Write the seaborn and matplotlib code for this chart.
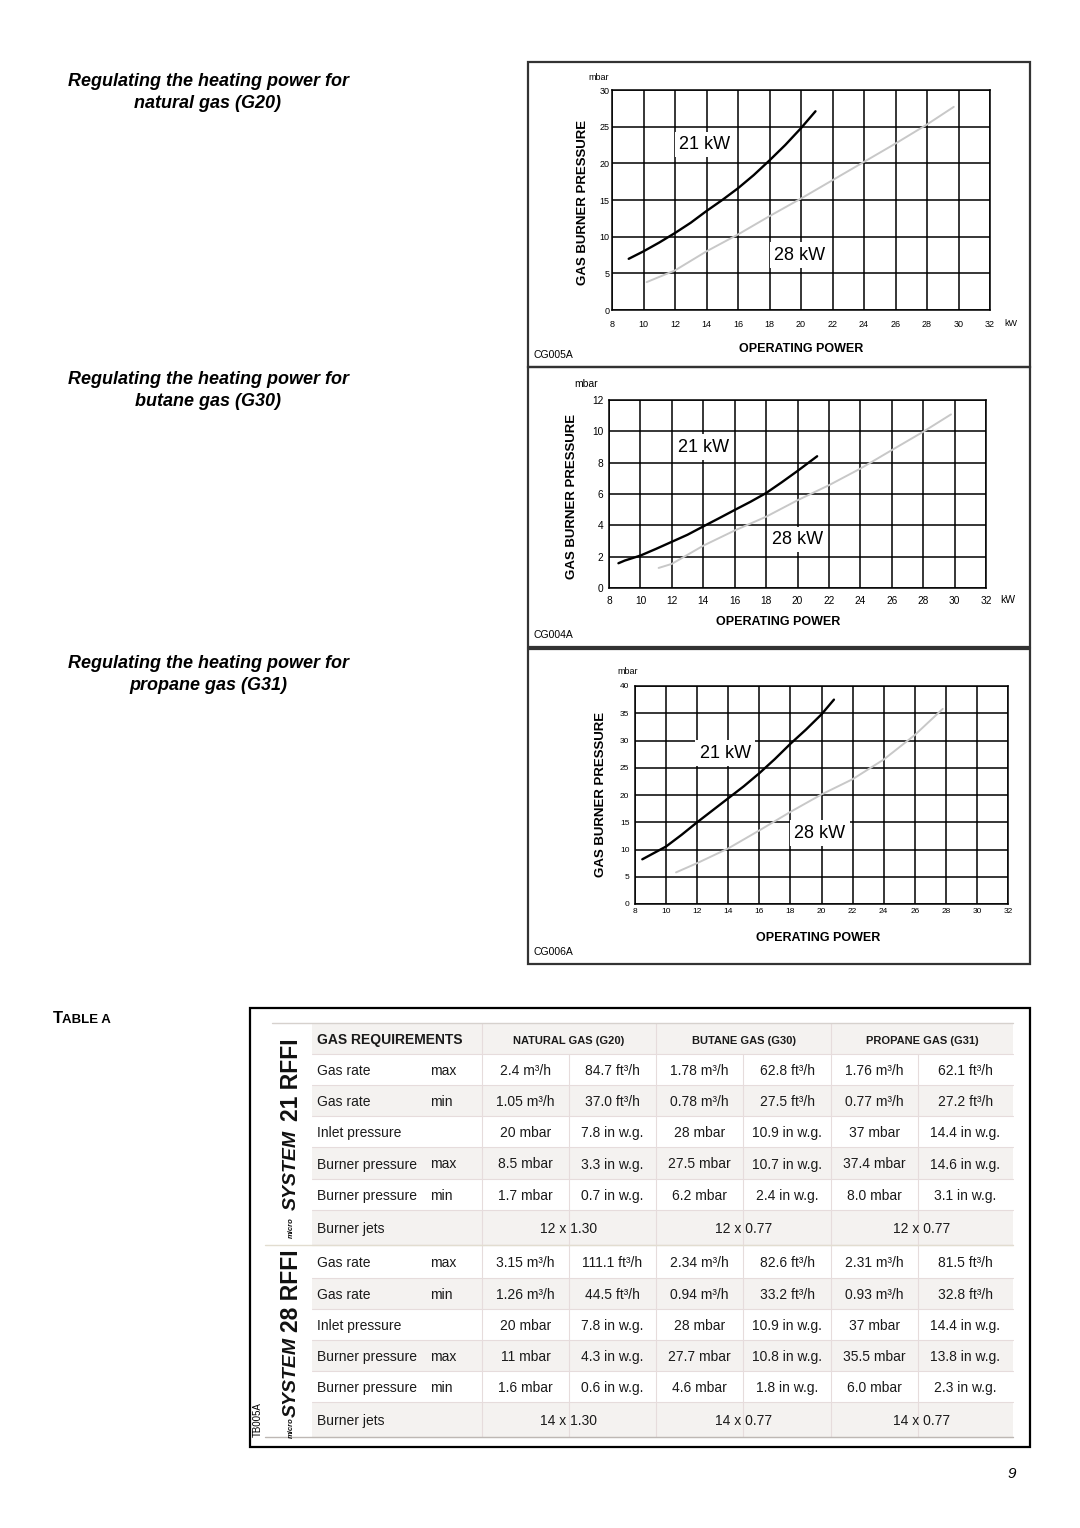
import matplotlib
matplotlib.use("Agg")
import matplotlib.pyplot as plt
import seaborn as sns
from matplotlib.patches import Rectangle

# curve data (kW -> mbar)
g20_21_kw = [9.06, 10, 11, 12, 13, 14, 15, 16, 17, 18, 19, 20, 20.92]
g20_21_mbar = [6.98, 8.0, 9.2, 10.5, 11.9, 13.5, 15.0, 16.6, 18.4, 20.4, 22.5, 24.8, 27.1]
g20_28_kw = [10.2, 12, 14, 16, 18, 20, 22, 24, 26, 28, 29.7]
g20_28_mbar = [3.8, 5.4, 8.0, 10.3, 12.8, 15.2, 17.7, 20.2, 22.7, 25.3, 27.7]

g30_21_kw = [8.6, 9, 10, 11, 12, 13, 14, 15, 16, 17, 18, 19, 20, 21.25]
g30_21_mbar = [1.58, 1.75, 2.07, 2.5, 2.95, 3.4, 3.93, 4.45, 4.98, 5.5, 6.06, 6.75, 7.47, 8.41]
g30_28_kw = [11.16, 12, 14, 16, 18, 20, 22, 24, 26, 28, 29.77]
g30_28_mbar = [1.28, 1.54, 2.7, 3.67, 4.55, 5.6, 6.56, 7.62, 8.8, 9.97, 11.08]

g31_21_kw = [8.47, 10, 11, 12, 13, 14, 15, 16, 17, 18, 19, 20, 20.8]
g31_21_mbar = [8.2, 10.55, 12.7, 15.0, 17.2, 19.4, 21.6, 24.0, 26.6, 29.4, 32.0, 34.8, 37.5]
g31_28_kw = [10.64, 12, 14, 16, 18, 20, 22, 24, 26, 27.8]
g31_28_mbar = [5.8, 7.5, 10.2, 13.5, 16.9, 20.1, 22.9, 26.5, 31.0, 35.8]

# table A
row_labels = ["Gas rate", "Gas rate", "Inlet pressure", "Burner pressure", "Burner pressure", "Burner jets"]
row_qualifiers = ["max", "min", "", "max", "min", ""]
gas_headers = ["NATURAL GAS (G20)", "BUTANE GAS (G30)", "PROPANE GAS (G31)"]
values_21 = [
    ["2.4 m³/h", "84.7 ft³/h", "1.78 m³/h", "62.8 ft³/h", "1.76 m³/h", "62.1 ft³/h"],
    ["1.05 m³/h", "37.0 ft³/h", "0.78 m³/h", "27.5 ft³/h", "0.77 m³/h", "27.2 ft³/h"],
    ["20 mbar", "7.8 in w.g.", "28 mbar", "10.9 in w.g.", "37 mbar", "14.4 in w.g."],
    ["8.5 mbar", "3.3 in w.g.", "27.5 mbar", "10.7 in w.g.", "37.4 mbar", "14.6 in w.g."],
    ["1.7 mbar", "0.7 in w.g.", "6.2 mbar", "2.4 in w.g.", "8.0 mbar", "3.1 in w.g."],
]
jets_21 = ["12 x 1.30", "12 x 0.77", "12 x 0.77"]
values_28 = [
    ["3.15 m³/h", "111.1 ft³/h", "2.34 m³/h", "82.6 ft³/h", "2.31 m³/h", "81.5 ft³/h"],
    ["1.26 m³/h", "44.5 ft³/h", "0.94 m³/h", "33.2 ft³/h", "0.93 m³/h", "32.8 ft³/h"],
    ["20 mbar", "7.8 in w.g.", "28 mbar", "10.9 in w.g.", "37 mbar", "14.4 in w.g."],
    ["11 mbar", "4.3 in w.g.", "27.7 mbar", "10.8 in w.g.", "35.5 mbar", "13.8 in w.g."],
    ["1.6 mbar", "0.6 in w.g.", "4.6 mbar", "1.8 in w.g.", "6.0 mbar", "2.3 in w.g."],
]
jets_28 = ["14 x 1.30", "14 x 0.77", "14 x 0.77"]

W, H = 1080, 1528
sns.set_style("white")
plt.rcParams['font.family'] = ['Liberation Sans', 'DejaVu Sans']
plt.rcParams['text.color'] = 'black'
plt.rcParams['xtick.color'] = 'black'
plt.rcParams['ytick.color'] = 'black'

fig = plt.figure(figsize=(W / 100, H / 100), dpi=100)
page = fig.add_axes([0, 0, 1, 1])
page.set_xlim(0, W)
page.set_ylim(H, 0)
page.axis('off')


def add_chart(l, t, r, b):
    return fig.add_axes([l / W, 1 - b / H, (r - l) / W, (b - t) / H])


def draw_chart(ax, ymax, ystep, kw21, p21, kw28, p28, pos21, pos28, fs, xpad, ypad):
    ax.set_xlim(8, 32)
    ax.set_ylim(0, ymax)
    ax.set_xticks(range(8, 33, 2))
    ax.set_yticks(range(0, ymax + 1, ystep))
    ax.grid(True, color='black', lw=1.1)
    ax.set_axisbelow(True)
    for s in ax.spines.values():
        s.set_visible(True)
        s.set_color('black')
        s.set_linewidth(1.1)
    ax.tick_params(length=0, labelsize=fs)
    ax.tick_params(axis='x', pad=xpad)
    ax.tick_params(axis='y', pad=ypad)
    sns.lineplot(x=kw21, y=p21, ax=ax, color='black', lw=1.7, zorder=4)
    sns.lineplot(x=kw28, y=p28, ax=ax, color='#c8c8c8', lw=1.4, zorder=4)
    box = dict(facecolor='white', edgecolor='none', pad=3)
    ax.text(pos21[0], pos21[1], '21 kW', fontsize=13, ha='center', va='center', bbox=box, zorder=3)
    ax.text(pos28[0], pos28[1], '28 kW', fontsize=13, ha='center', va='center', bbox=box, zorder=3)
    ax.set_xlabel('')
    ax.set_ylabel('')


# chart frames
for (l, t, r, b) in [(528, 62, 1030, 367), (528, 367, 1030, 647), (528, 649, 1030, 964)]:
    page.add_patch(Rectangle((l, t), r - l, b - t, fill=False, ec='#333333', lw=1.6))

ax1 = add_chart(612, 90, 990, 310)
draw_chart(ax1, 30, 5, g20_21_kw, g20_21_mbar, g20_28_kw, g20_28_mbar, (13.9, 22.6), (19.9, 7.5), 6.5, 7, 2)
ax2 = add_chart(609, 400, 986, 588)
draw_chart(ax2, 12, 2, g30_21_kw, g30_21_mbar, g30_28_kw, g30_28_mbar, (14.0, 9.0), (20.0, 3.1), 7.3, 6, 4)
ax3 = add_chart(635, 686, 1008, 904)
draw_chart(ax3, 40, 5, g31_21_kw, g31_21_mbar, g31_28_kw, g31_28_mbar, (13.8, 27.7), (19.9, 13.0), 6, 3, 4)

# chart annotations
for (mx, my, mfs, yx, yy, kx, ky, ox, oy, cy, code) in [
        (599, 78, 6.5, 583, 202, 1011, 324, 801, 349, 355, 'CG005A'),
        (586, 384, 7.5, 572, 496, 1008, 600, 778, 622, 635, 'CG004A'),
        (628, 671, 6.5, 601, 794, None, None, 818, 938, 952, 'CG006A')]:
    page.text(mx, my, 'mbar', fontsize=mfs, ha='center', va='center')
    page.text(yx, yy, 'GAS BURNER PRESSURE', fontsize=9.5, fontweight='bold', rotation=90,
              ha='center', va='center')
    if kx is not None:
        page.text(kx, ky, 'kW', fontsize=mfs, ha='center', va='center')
    page.text(ox, oy, 'OPERATING POWER', fontsize=9, fontweight='bold', ha='center', va='center')
    page.text(533, cy, code, fontsize=7.5, ha='left', va='center')

# left titles
for (y1, line2) in [(81, 'natural gas (G20)'), (380, 'butane gas (G30)'), (663, 'propane gas (G31)')]:
    page.text(208, y1, 'Regulating the heating power for', fontsize=13, fontweight='bold',
              style='italic', ha='center', va='center')
    page.text(208, y1 + 22, line2, fontsize=13, fontweight='bold', style='italic',
              ha='center', va='center')

page.text(53, 1023, 'T', fontsize=12, fontweight='bold', ha='left', va='baseline')
page.text(62, 1023, 'ABLE A', fontsize=9.5, fontweight='bold', ha='left', va='baseline')
page.text(1012, 1474, '9', fontsize=11, style='italic', ha='center', va='center')

# table A
page.add_patch(Rectangle((250, 1008), 780, 439, fill=False, ec='black', lw=1.6))
col_edges = [312, 482, 569, 656, 743, 831, 918, 1013]
block1_edges = [1054, 1085, 1116, 1147, 1179, 1210, 1245]
block2_edges = [1245, 1278, 1309, 1340, 1371, 1402, 1437]
line_c = '#e6dcdc'
alt_bg = '#f4f2f0'
txt_c = '#1a1a1a'

page.add_patch(Rectangle((312, 1023), 1013 - 312, 1054 - 1023, fc=alt_bg, ec='none'))
page.text(317, 1044, 'GAS REQUIREMENTS', fontsize=10, fontweight='bold', color=txt_c,
          ha='left', va='baseline')
for g, name in enumerate(gas_headers):
    cx = (col_edges[1 + 2 * g] + col_edges[3 + 2 * g]) / 2
    page.text(cx, 1044, name, fontsize=8, fontweight='bold', color=txt_c, ha='center', va='baseline')
for x in [482, 656, 831]:
    page.plot([x, x], [1023, 1054], color=line_c, lw=0.8)
page.plot([272, 1013], [1023, 1023], color='#d6d1cd', lw=1.0)

for edges, vals, jets in [(block1_edges, values_21, jets_21), (block2_edges, values_28, jets_28)]:
    for i in range(6):
        top, bot = edges[i], edges[i + 1]
        by = (top + bot) / 2 + 5.5
        if i % 2 == 1:
            page.add_patch(Rectangle((312, top), 1013 - 312, bot - top, fc=alt_bg, ec='none'))
        page.text(317, by, row_labels[i], fontsize=10, color=txt_c, ha='left', va='baseline')
        if row_qualifiers[i]:
            page.text(430, by, row_qualifiers[i], fontsize=10, color=txt_c, ha='left', va='baseline')
        if i < 5:
            for j, v in enumerate(vals[i]):
                cx = (col_edges[1 + j] + col_edges[2 + j]) / 2
                page.text(cx, by, v, fontsize=10, color=txt_c, ha='center', va='baseline')
        else:
            for g, v in enumerate(jets):
                cx = (col_edges[1 + 2 * g] + col_edges[3 + 2 * g]) / 2
                page.text(cx, by, v, fontsize=10, color=txt_c, ha='center', va='baseline')
    for y in edges:
        page.plot([312, 1013], [y, y], color=line_c, lw=0.8)
    for x in col_edges[1:-1]:
        page.plot([x, x], [edges[0], edges[-1]], color=line_c, lw=0.8)
page.plot([265, 1013], [1245, 1245], color='#e2ddd0', lw=1.0)
page.plot([265, 1013], [1437, 1437], color='#bdb8b4', lw=1.0)

# model names down the left strip
for (cy_num, cy_sys, cy_mic, num) in [(1080, 1170, 1228, '21 RFFI'), (1291, 1377, 1428, '28 RFFI')]:
    page.text(291, cy_num, num, fontsize=16.5, fontweight='bold',
              rotation=90, ha='center', va='center', color='#111111')
    page.text(291, cy_sys, 'SYSTEM', fontsize=14, fontweight='bold', style='italic',
              rotation=90, ha='center', va='center', color='#111111')
    page.text(291, cy_mic, 'micro', fontsize=5.5, fontweight='bold', style='italic',
              rotation=90, ha='center', va='center', color='#111111')
page.text(258, 1420, 'TB005A', fontsize=7, rotation=90, ha='center', va='center')

fig.savefig('out.png', dpi=100)
